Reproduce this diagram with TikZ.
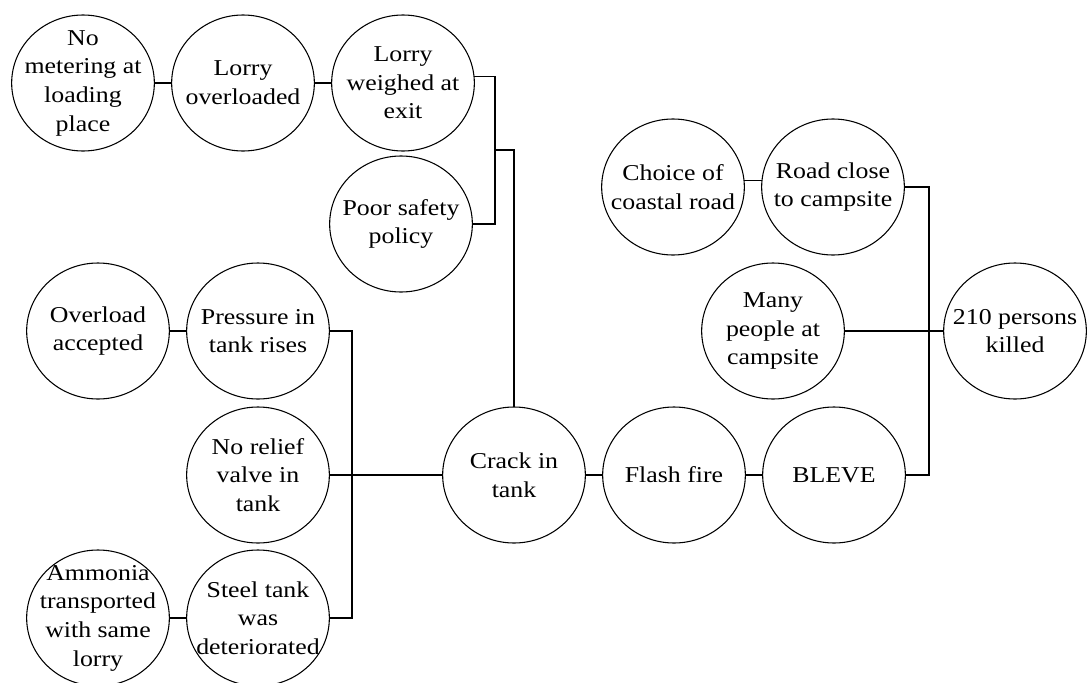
\documentclass[tikz,border=0pt]{standalone}
\usepackage{fontspec}
\setmainfont{Liberation Serif}[FakeStretch=1.14]
\usepackage{tikz}
\usetikzlibrary{positioning,shapes.geometric}
\newdimen\hdim
\newdimen\wdim
\newdimen\odim
\hdim=102pt
\wdim=107pt
\odim=13pt
\tikzstyle{event}=[
  draw=black,
  ellipse,
  font={\fontsize{17pt}{21.5pt}\selectfont},
  inner sep=-12pt,
  minimum height=\hdim,
  minimum width=\wdim,
  outer sep=0pt,
  align=center,
  line width=.8pt,
]
\tikzstyle{link}=[
  draw=black,
  line width=.9pt,
]
\tikzset{
  node distance=\wdim+\odim,
}
\begin{document}
\begin{tikzpicture}[x=.75pt,y=-.75pt]
  \useasboundingbox (0,0) rectangle (1089,682);
  %% loading and weighing
  \node (metering) [event] at (83,83) {No\\metering at\\loading\\place};
  \node (overloaded) [event, right of=metering] {Lorry\\overloaded};
  \node (weighed) [event, right of=overloaded] {Lorry\\weighed at\\exit};
  \node (policy) [event] at (401,224) {Poor safety\\policy};
  %% tank
  \node (accepted) [event] at (98,331) {Overload\\accepted};
  \node (pressure) [event, right of=accepted] {Pressure in\\tank rises};
  \node (relief) [event] at (258,475) {No relief\\valve in\\tank};
  \node (ammonia) [event] at (98,618) {Ammonia\\transported\\with same\\lorry};
  \node (steel) [event, right of=ammonia] {Steel tank\\was\\deteriorated};
  %% main chain
  \node (crack) [event] at (514,475) {Crack in\\tank};
  \node (flash) [event, right of=crack] {Flash fire};
  \node (bleve) [event, right of=flash] {BLEVE};
  %% campsite
  \node (choice) [event] at (673,187) {Choice of\\coastal road};
  \node (road) [event, right of=choice] {Road close\\to campsite};
  \node (many) [event] at (773,331) {Many\\people at\\campsite};
  \node (killed) [event] at (1015,331) {210 persons\\killed};
  %%
  \coordinate (safetybus) at (495,150);
  \coordinate (tankbus) at (352,475);
  \coordinate (campbus) at (929,331);
  %%
  \draw [link] (metering) -- (overloaded);
  \draw [link] (overloaded) -- (weighed);
  \draw [link] (weighed.5) -| (safetybus) |- (policy.east);
  \draw [link] (safetybus) -| (crack.north);
  \draw [link] (accepted) -- (pressure);
  \draw [link] (ammonia) -- (steel);
  \draw [link] (pressure.east) -| (tankbus) |- (steel.east);
  \draw [link] (relief) -- (crack);
  \draw [link] (crack) -- (flash);
  \draw [link] (flash) -- (bleve);
  \draw [link] (choice.5) -- (road.175);
  \draw [link] (road.east) -| (campbus) |- (bleve.east);
  \draw [link] (many) -- (killed);
\end{tikzpicture}
\end{document}
